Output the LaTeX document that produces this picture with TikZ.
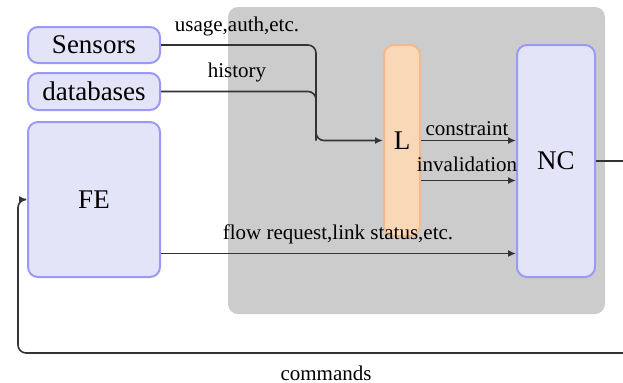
\documentclass[tikz,border=0pt]{standalone}
\usepackage{fontspec}
\setmainfont{Liberation Serif}
\usetikzlibrary{arrows.meta,calc}
\definecolor{boxfill}{HTML}{E4E4F9}
\definecolor{boxdraw}{HTML}{9A9AF6}
\definecolor{lfill}{HTML}{F9D8B8}
\definecolor{ldraw}{HTML}{F2B98A}
\definecolor{bggray}{HTML}{CCCCCC}
\definecolor{linec}{HTML}{333333}
\tikzset{
  blockbox/.style={draw=boxdraw, fill=boxfill, line width=1pt, rounded corners=5pt, inner sep=0pt, font=\fontsize{13.5}{16}\selectfont},
  lbox/.style={draw=ldraw, fill=lfill, line width=1pt, rounded corners=5pt, inner sep=0pt, font=\fontsize{13.5}{16}\selectfont},
  conn/.style={draw=linec, line width=0.8pt, -{Latex[length=4pt,width=3.5pt]}},
  lbl/.style={inner sep=0pt, font=\fontsize{10.5}{12}\selectfont},
}
\begin{document}
\begin{tikzpicture}[x=0.5pt,y=-0.5pt]
\useasboundingbox (0,0) rectangle (623,382);
\node[fill=bggray, rounded corners=5pt, minimum width=188.5pt, minimum height=153.5pt, inner sep=0pt] (bg) at (416.5,160.5) {};
\node[blockbox, minimum width=66pt, minimum height=18pt] (sensors) at (94,45) {Sensors};
\node[blockbox, minimum width=66pt, minimum height=18.5pt] (db) at (94,91.5) {databases};
\node[blockbox, minimum width=66pt, minimum height=77.5pt] (fe) at (94,199.5) {FE};
\node[lbox, minimum width=18pt, minimum height=95.5pt] (L) at (402,140.5) {L};
\node[blockbox, minimum width=39pt, minimum height=116pt] (nc) at (556,161) {NC};
\coordinate (mergex) at (316,0);
\coordinate (rt) at (640,161);
\coordinate (rb) at (640,353);
\coordinate (lb) at (18,353);
\draw[conn, -, rounded corners=4pt] (sensors.east) -- (sensors.east -| mergex) -- (mergex |- L.west);
\draw[conn, rounded corners=4pt] (db.east) -- (db.east -| mergex) -- (mergex |- L.west) -- (L.west);
\draw[conn] (L.east) -- (L.east -| nc.west);
\draw[conn] ([yshift=-20pt]L.east) -- ([yshift=-20pt]L.east -| nc.west);
\draw[conn] ([yshift=-27pt]fe.east) -- ([yshift=-27pt]fe.east -| nc.west);
\draw[conn, rounded corners=4pt] (nc.east) -- (rt) -- (rb) -- (lb) -- (lb |- fe.west) -- (fe.west);
\node[lbl] (l1) at (237,26) {usage,auth,etc.};
\node[lbl] (l2) at (237,72) {history};
\node[lbl] (l3) at (467,129) {constraint};
\node[lbl] (l4) at (467,164) {invalidation};
\node[lbl] (l5) at (338,234) {flow request,link status,etc.};
\node[lbl] (l6) at (326,373) {commands};
\end{tikzpicture}
\end{document}
